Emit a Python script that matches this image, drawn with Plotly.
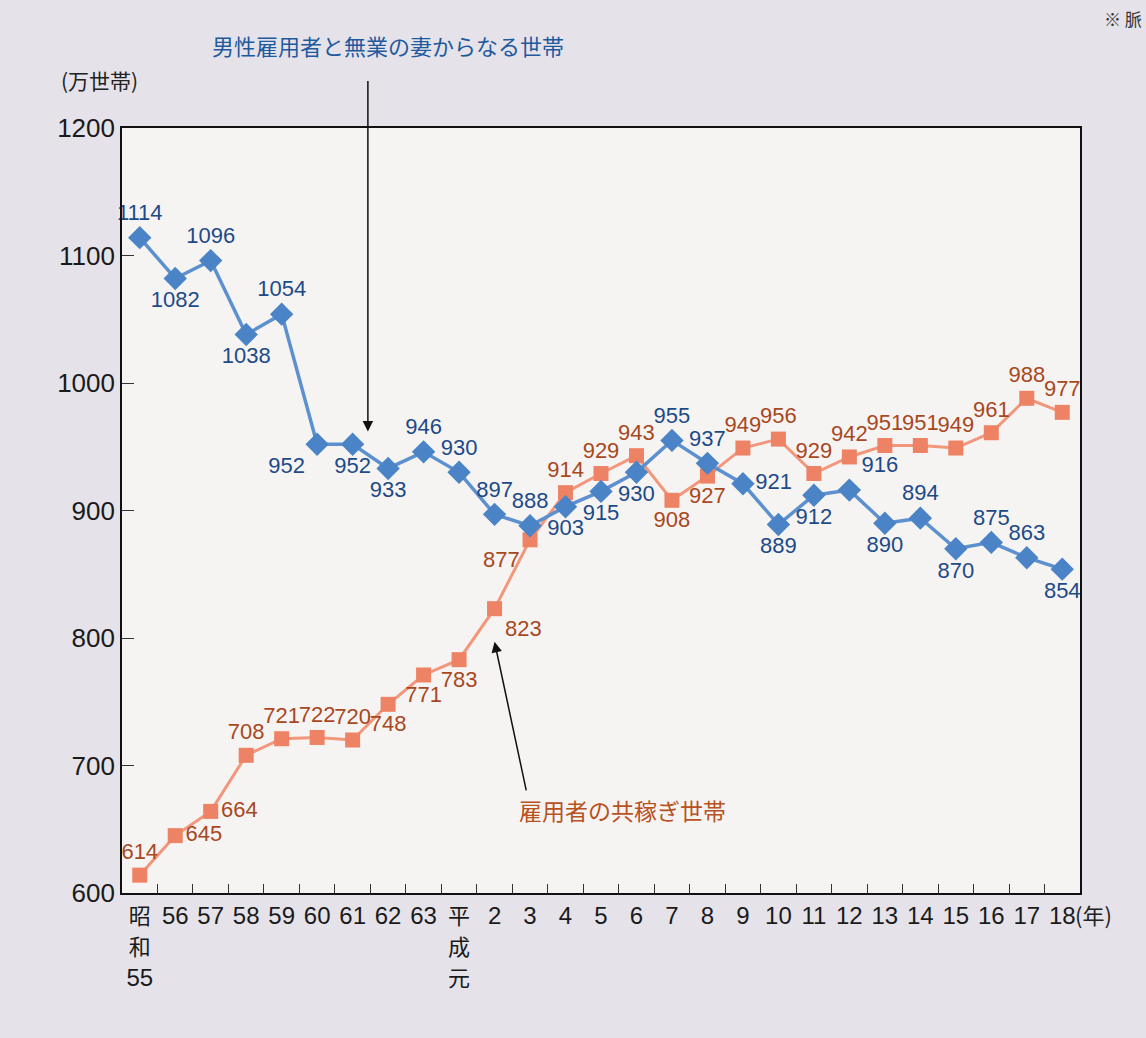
import plotly.graph_objects as go

# ---- data ----
categories = ["昭和55", "56", "57", "58", "59", "60", "61", "62", "63", "平成元",
              "2", "3", "4", "5", "6", "7", "8", "9", "10", "11", "12", "13",
              "14", "15", "16", "17", "18"]
single_earner = [1114, 1082, 1096, 1038, 1054, 952, 952, 933, 946, 930,
                 897, 888, 903, 915, 930, 955, 937, 921, 889, 912, 916, 890,
                 894, 870, 875, 863, 854]
dual_earner = [614, 645, 664, 708, 721, 722, 720, 748, 771, 783,
               823, 877, 914, 929, 943, 908, 927, 949, 956, 929, 942, 951,
               951, 949, 961, 988, 977]
y_ticks = [600, 700, 800, 900, 1000, 1100, 1200]

name_single = "男性雇用者と無業の妻からなる世帯"
name_dual = "雇用者の共稼ぎ世帯"

# ---- label placement ----
pos_single = ["top center", "bottom center", "top center", "bottom center", "top center",
              "bottom left", "bottom center", "bottom center", "top center", "top center",
              "top center", "top center", "bottom center", "bottom center", "bottom center",
              "top center", "top center", "middle right", "bottom center", "bottom center",
              "top right", "bottom center", "top center", "bottom center", "top center",
              "top center", "bottom center"]
pos_dual = ["top center", "middle right", "middle right", "top center", "top center",
            "top center", "top center", "bottom center", "bottom center", "bottom center",
            "bottom right", "bottom left", "top center", "top center", "top center",
            "bottom center", "bottom center", "top center", "top center", "top center",
            "top center", "top center", "top center", "top center", "top center",
            "top center", "top center"]

NUM_FONT = "Liberation Sans, Arial, sans-serif"
CJK_FONT = "Noto Sans CJK JP, Noto Sans CJK SC, sans-serif"


def tick_text(c):
    # stack era labels (e.g. 昭和55, 平成元) vertically
    if c.isdigit():
        return c
    out, buf = [], ""
    for ch in c:
        if ch.isdigit():
            buf += ch
        else:
            if buf:
                out.append(buf)
                buf = ""
            out.append(f"<span style='font-family:{CJK_FONT};font-size:22px'>{ch}</span>")
    if buf:
        out.append(buf)
    return "<br>".join(out)


BLUE_LINE = "#5c90cf"
BLUE_MARK = "#4a84c6"
BLUE_TEXT = "#1d4a88"
ORANGE_LINE = "#f2967c"
ORANGE_MARK = "#ee8264"
ORANGE_TEXT = "#a8481e"

fig = go.Figure()

fig.add_trace(go.Scatter(
    x=categories, y=dual_earner, name=name_dual,
    mode="lines+markers+text",
    line=dict(color=ORANGE_LINE, width=3),
    marker=dict(symbol="square", size=15, color=ORANGE_MARK),
    text=[str(v) for v in dual_earner], textposition=pos_dual,
    textfont=dict(family=NUM_FONT, size=22, color=ORANGE_TEXT),
    cliponaxis=False, hoverinfo="x+y"))

fig.add_trace(go.Scatter(
    x=categories, y=single_earner, name=name_single,
    mode="lines+markers+text",
    line=dict(color=BLUE_LINE, width=3.5),
    marker=dict(symbol="diamond", size=18, color=BLUE_MARK),
    text=[str(v) for v in single_earner], textposition=pos_single,
    textfont=dict(family=NUM_FONT, size=22, color=BLUE_TEXT),
    cliponaxis=False, hoverinfo="x+y"))

fig.update_layout(
    width=1146, height=1038,
    margin=dict(l=122, r=66, t=128, b=145),
    paper_bgcolor="#e5e3e9",
    plot_bgcolor="#f6f4f2",
    showlegend=False,
    font=dict(family=NUM_FONT, color="#1a1a1a"),
)

fig.update_xaxes(
    type="category",
    tickvals=categories,
    ticktext=[tick_text(c) for c in categories],
    range=[-0.5, len(categories) - 0.5],
    showline=True, linecolor="#111111", linewidth=1.6, mirror=True,
    ticks="inside", tickson="boundaries", ticklen=9, tickcolor="#333333", tickwidth=1,
    showgrid=False, zeroline=False,
    tickfont=dict(family=NUM_FONT, size=24, color="#1a1a1a"),
    tickangle=0,
)
fig.update_yaxes(
    range=[600, 1200],
    tickvals=y_ticks,
    showline=True, linecolor="#111111", linewidth=1.6, mirror=True,
    ticks="inside", ticklen=12, tickcolor="#333333", tickwidth=1,
    showgrid=False, zeroline=False,
    tickfont=dict(family=NUM_FONT, size=26, color="#1a1a1a"),
)

annotations = [
    # series name (top) and its arrow
    dict(text=name_single, xref="paper", yref="paper", x=0.2777, y=1.108,
         showarrow=False, font=dict(family=CJK_FONT, size=22, color="#1f5a9e"),
         xanchor="center", yanchor="middle"),
    dict(text="", xref="x", yref="y", x=6.43, y=962, ax=0, ay=-352,
         showarrow=True, arrowhead=2, arrowsize=1.4, arrowwidth=1.5, arrowcolor="#111111"),
    # dual-earner name and its arrow
    dict(text=name_dual, xref="x", yref="y", x=13.6, y=665,
         showarrow=False, font=dict(family=CJK_FONT, size=23, color="#b8521f"),
         xanchor="center", yanchor="middle"),
    dict(text="", xref="x", yref="y", x=10.0, y=797, ax=32, ay=150,
         showarrow=True, arrowhead=2, arrowsize=1.4, arrowwidth=1.5, arrowcolor="#111111"),
    # axis units
    dict(text="(万世帯)", xref="paper", yref="paper", x=-0.023, y=1.063,
         showarrow=False, font=dict(family=CJK_FONT, size=21, color="#222222"),
         xanchor="center", yanchor="middle"),
    dict(text="(年)", xref="paper", yref="paper", x=1.0145, y=-0.027,
         showarrow=False, font=dict(family=CJK_FONT, size=22, color="#222222"),
         xanchor="center", yanchor="middle"),
    dict(text="※ 脈", xref="paper", yref="paper", x=1.0668, y=1.162,
         showarrow=False, font=dict(family=CJK_FONT, size=17, color="#333333"),
         xanchor="right", yanchor="top"),
]
fig.update_layout(annotations=annotations)

fig.write_html("out.html")
